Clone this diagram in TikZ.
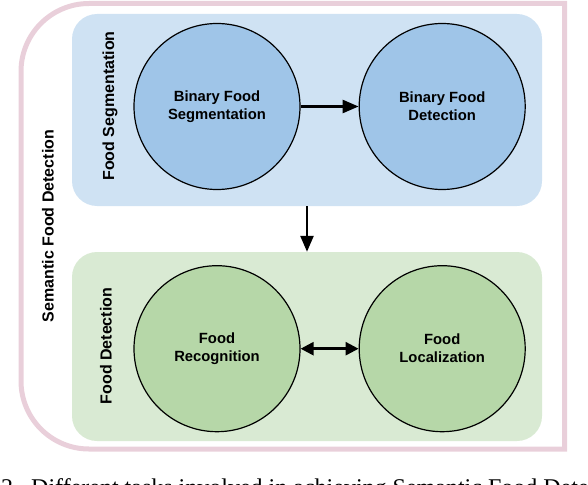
\documentclass[tikz,border=0pt]{standalone}
\usepackage{fontspec}
\setmainfont{Liberation Serif}
\setsansfont{Liberation Sans}
\usetikzlibrary{arrows.meta,positioning}
\definecolor{framepink}{HTML}{E9CFDA}
\definecolor{segbox}{HTML}{CFE2F3}
\definecolor{segcirc}{HTML}{9FC5E8}
\definecolor{detbox}{HTML}{D9EAD3}
\definecolor{detcirc}{HTML}{B6D7A8}

\begin{document}
\begin{tikzpicture}[x=1pt,y=-1pt,
  task/.style={circle,draw=black,line width=1.2pt,minimum size=166pt,inner sep=0pt,align=center,
    font=\sffamily\bfseries\fontsize{14.8}{18}\selectfont},
  stage/.style={rounded corners=25pt,minimum width=470pt,inner sep=0pt},
  vlabel/.style={rotate=90,inner sep=0pt,font=\sffamily\bfseries\fontsize{16}{19}\selectfont},
  flow/.style={line width=2.5pt,-{Triangle[length=16pt,width=13pt]}},
  both/.style={line width=2.5pt,{Triangle[length=13pt,width=13pt]}-{Triangle[length=13pt,width=13pt]}}]
\useasboundingbox (0,0) rectangle (588,484);
\clip (0,0) rectangle (588,484);
\draw[framepink,line width=5pt] (564.5,449) -- (564.5,3.5) -- (89,3.5)
  arc[start angle=270,end angle=180,radius=68] -- (21,381)
  arc[start angle=180,end angle=90,radius=68] -- cycle;
\node[stage,fill=segbox,minimum height=192pt] (segstage) at (307,110) {};
\node[stage,fill=detbox,minimum height=189pt] (detstage) at (307,346.5) {};
\node[task,fill=segcirc] (binseg) at (217,106.5) {Binary Food\\Segmentation};
\node[task,fill=segcirc,right=58pt of binseg] (bindet) {Binary Food\\Detection};
\node[task,fill=detcirc,below=75pt of binseg] (foodrec) {Food\\Recognition};
\node[task,fill=detcirc,right=58pt of foodrec] (foodloc) {Food\\Localization};
\node[vlabel] (seglabel) at (110,106) {Food Segmentation};
\node[vlabel] (detlabel) at (106,346) {Food Detection};
\node[vlabel] (semlabel) at (48,226) {Semantic Food Detection};
\draw[flow] (binseg) -- (bindet);
\draw[flow] (segstage) -- (detstage);
\draw[both] (foodrec) -- (foodloc);
\node[anchor=base west,inner sep=0pt,font=\fontsize{24}{28}\selectfont] (caption) at (1,495)
  {2.\ \ Different tasks involved in achieving Semantic Food Detection};
\end{tikzpicture}
\end{document}
